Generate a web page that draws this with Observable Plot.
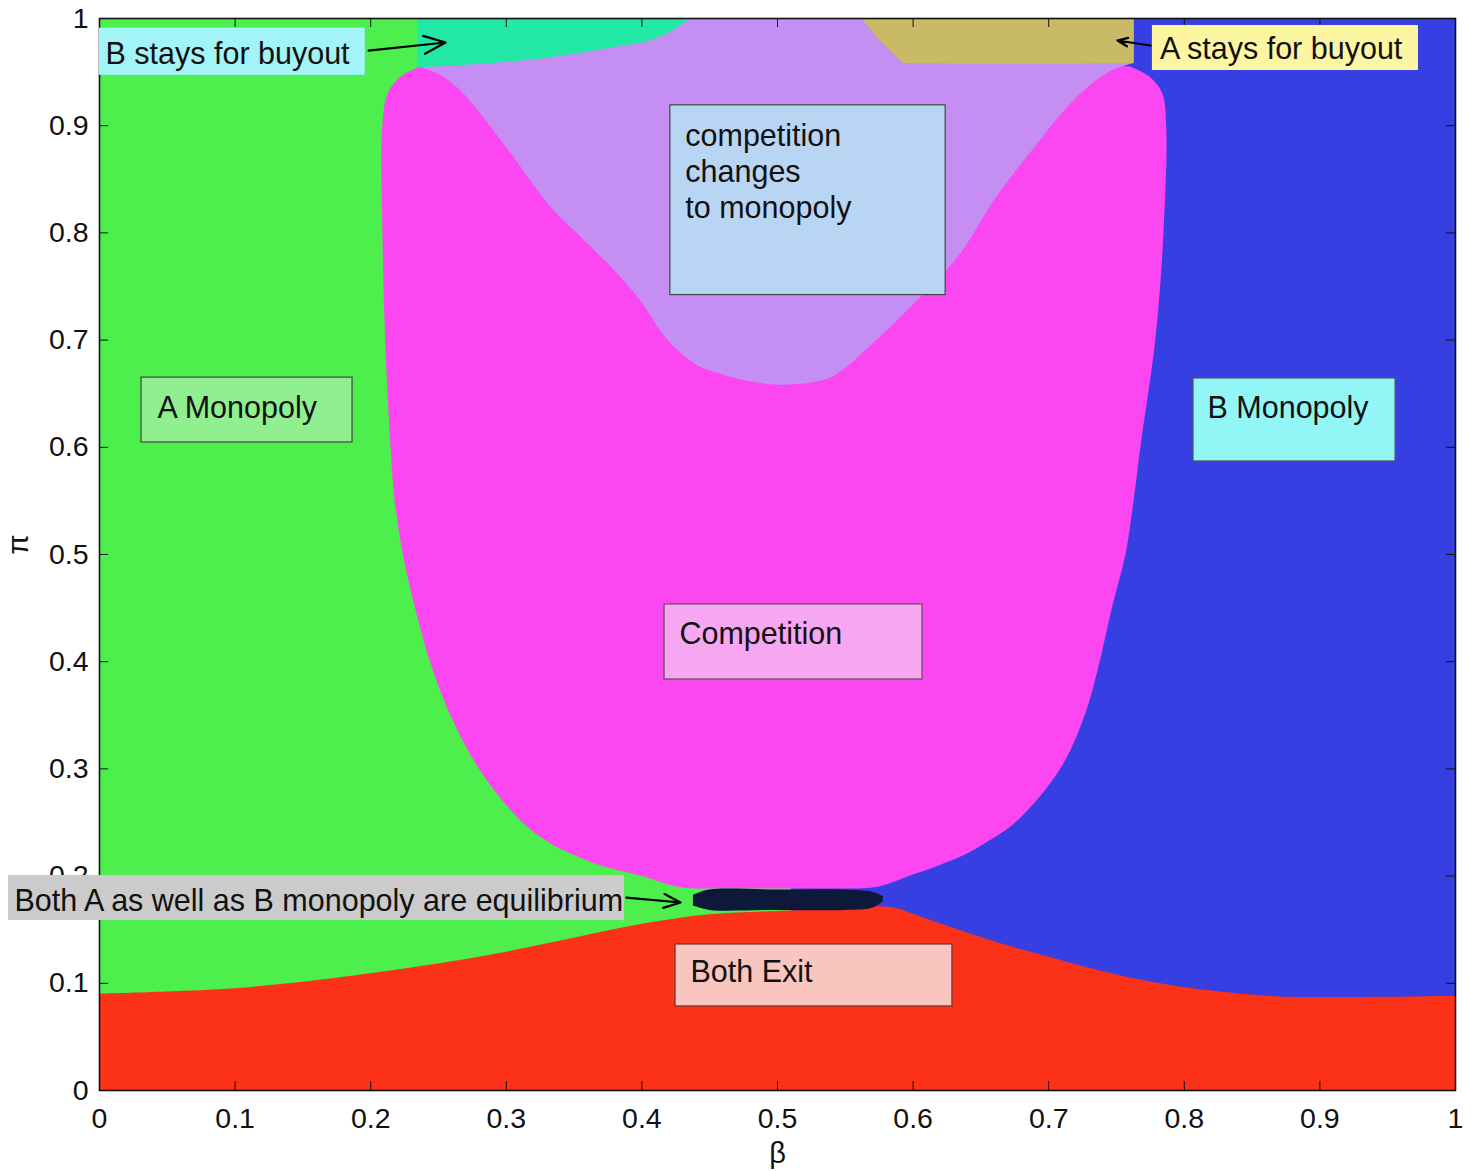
<!DOCTYPE html>
<html><head><meta charset="utf-8">
<script src="https://cdn.jsdelivr.net/npm/d3@7"></script>
<script src="https://cdn.jsdelivr.net/npm/@observablehq/plot@0.6"></script>
<style>html,body{margin:0;padding:0;background:#fff;} svg{display:block}</style>
</head><body><div id="chart"></div>
<script>
// ---- tick values / labels ----
const betaTicks = [0, 0.1, 0.2, 0.3, 0.4, 0.5, 0.6, 0.7, 0.8, 0.9, 1];
const betaTickLabels = ["0", "0.1", "0.2", "0.3", "0.4", "0.5", "0.6", "0.7", "0.8", "0.9", "1"];
const piTicks = [0, 0.1, 0.2, 0.3, 0.4, 0.5, 0.6, 0.7, 0.8, 0.9, 1];
const piTickLabels = ["0", "0.1", "0.2", "0.3", "0.4", "0.5", "0.6", "0.7", "0.8", "0.9", "1"];

// ---- background monopoly regions (split under the equilibrium band) ----
const bgRegions = ["A Monopoly", "B Monopoly"];
const bgFrom = [0, 0.51];
const bgTo = [0.51, 1];

// ---- Both Exit: upper boundary π(β) ----
const exitBeta = [0, 0.05, 0.1, 0.15, 0.2, 0.25, 0.3, 0.35, 0.4, 0.45, 0.5, 0.55, 0.583, 0.61, 0.642, 0.67, 0.701, 0.73, 0.76, 0.79, 0.819, 0.85, 0.878, 0.95, 1];
const exitTop  = [0.090, 0.092, 0.095, 0.101, 0.109, 0.118, 0.129, 0.142, 0.155, 0.164, 0.167, 0.169, 0.171, 0.160, 0.146, 0.135, 0.124, 0.114, 0.105, 0.098, 0.093, 0.089, 0.087, 0.087, 0.088];

// ---- Competition: left / right boundary β(π) ----
const compPi    = [0.188, 0.19, 0.2, 0.21, 0.22, 0.23, 0.25, 0.3, 0.35, 0.4, 0.45, 0.5, 0.55, 0.6, 0.7, 0.8, 0.9, 0.93, 0.945, 0.955];
const compLeft  = [0.436, 0.425, 0.399, 0.369, 0.349, 0.333, 0.312, 0.280, 0.259, 0.244, 0.233, 0.224, 0.218, 0.215, 0.211, 0.209, 0.209, 0.213, 0.222, 0.237];
const compRight = [0.561, 0.576, 0.598, 0.620, 0.639, 0.653, 0.676, 0.709, 0.727, 0.738, 0.747, 0.757, 0.763, 0.768, 0.779, 0.785, 0.787, 0.784, 0.775, 0.760];

// ---- competition changes to monopoly: lower boundary π(β) ----
const changeBeta   = [0.235, 0.25, 0.266, 0.30, 0.333, 0.36, 0.382, 0.40, 0.419, 0.44, 0.456, 0.48, 0.51, 0.54, 0.565, 0.59, 0.61, 0.635, 0.66, 0.69, 0.72, 0.745, 0.763];
const changeBottom = [0.955, 0.948, 0.933, 0.88, 0.824, 0.79, 0.762, 0.735, 0.70, 0.677, 0.669, 0.661, 0.658, 0.665, 0.69, 0.72, 0.745, 0.78, 0.83, 0.88, 0.925, 0.95, 0.958];

// ---- B stays for buyout: lower boundary ----
const bStayBeta   = [0.235, 0.28, 0.33, 0.38, 0.406, 0.425, 0.436];
const bStayBottom = [0.954, 0.957, 0.963, 0.973, 0.979, 0.99, 1.0];

// ---- A stays for buyout: lower boundary ----
const aStayBeta   = [0.562, 0.575, 0.593, 0.65, 0.7, 0.763];
const aStayBottom = [1.0, 0.98, 0.958, 0.957, 0.957, 0.958];

// ---- Both A and B monopoly equilibrium band ----
const bothBeta = [0.438, 0.45, 0.5, 0.55, 0.57, 0.578];
const bothLow  = [0.172, 0.168, 0.168, 0.168, 0.170, 0.176];
const bothHigh = [0.182, 0.187, 0.187, 0.187, 0.185, 0.181];

// ---- annotations (text boxes) ----
const noteText = ["B stays for buyout", "A stays for buyout", "competition\nchanges\nto monopoly", "A Monopoly", "B Monopoly", "Competition", "Both A as well as B monopoly are equilibrium", "Both Exit"];
const noteX1 = [0, 0.7765, 0.421, 0.031, 0.8068, 0.4167, -0.0671, 0.4248];
const noteX2 = [0.196, 0.9727, 0.624, 0.1866, 0.9558, 0.6069, 0.3872, 0.629];
const noteY1 = [0.947, 0.9515, 0.742, 0.6045, 0.5868, 0.3834, 0.1586, 0.0784];
const noteY2 = [0.991, 0.9935, 0.919, 0.665, 0.6642, 0.4534, 0.2006, 0.1362];
const noteTx = [0.0044, 0.782, 0.432, 0.0428, 0.8171, 0.4277, -0.0627, 0.4358];
const noteTy = [0.968, 0.973, 0.858, 0.638, 0.638, 0.4272, 0.1782, 0.1119];

// ---- arrows ----
const arrowFromBeta = [0.1984, 0.775, 0.3886];
const arrowFromPi   = [0.970, 0.9748, 0.180];
const arrowToBeta   = [0.2552, 0.7507, 0.4285];
const arrowToPi     = [0.9776, 0.9795, 0.1754];

// ---- styles ----
const regionColor = {
  "A Monopoly": "#4cef4c", "B Monopoly": "#3640e2", "Both Exit": "#fc3218",
  "Competition": "#fb46f2", "Change": "#c48ef2", "B stays": "#22e8a6",
  "A stays": "#c8ba66", "Both": "#0e1838"
};
const noteFill = ["#a2f4f6", "#fcf6a2", "#b8d6f4", "#90f090", "#92f6f6", "#f7a6f1", "#cbcbcb", "#f9c6bf"];
const noteStroke = ["none", "none", "#444", "#444", "#555", "#555", "none", "#633"];

const bg = bgRegions.map((r, i) => ({region: r, x1: bgFrom[i], x2: bgTo[i]}));
const exitData = exitBeta.map((b, i) => ({beta: b, top: exitTop[i]}));
const compData = compPi.map((p, i) => ({pi: p, left: compLeft[i], right: compRight[i]}));
const changeData = changeBeta.map((b, i) => ({beta: b, bottom: changeBottom[i]}));
const bStayData = bStayBeta.map((b, i) => ({beta: b, bottom: bStayBottom[i]}));
const aStayData = aStayBeta.map((b, i) => ({beta: b, bottom: aStayBottom[i]}));
const bothData = bothBeta.map((b, i) => ({beta: b, low: bothLow[i], high: bothHigh[i]}));
const notes = noteText.map((t, i) => ({text: t, x1: noteX1[i], x2: noteX2[i], y1: noteY1[i], y2: noteY2[i], tx: noteTx[i], ty: noteTy[i], fill: noteFill[i], stroke: noteStroke[i]}));
const arrows = arrowFromBeta.map((b, i) => ({x1: b, y1: arrowFromPi[i], x2: arrowToBeta[i], y2: arrowToPi[i]}));

const W = 1478, H = 1171, mL = 99, mR = 23, mT = 18, mB = 81;
const plotW = W - mL - mR, plotH = H - mT - mB;
const piMin = piTicks[0], piMax = piTicks[piTicks.length - 1];
const font = "'Liberation Sans', Arial, Helvetica, sans-serif";

const chart = Plot.plot({
  width: W, height: H,
  marginLeft: mL, marginRight: mR, marginTop: mT, marginBottom: mB,
  x: {domain: [betaTicks[0], betaTicks[betaTicks.length - 1]]},
  y: {domain: [piMin, piMax]},
  style: {fontFamily: font, background: "white", overflow: "visible", color: "#111"},
  marks: [
    Plot.rect(bg, {x1: "x1", x2: "x2", y1: () => piMin, y2: () => piMax, fill: d => regionColor[d.region]}),
    Plot.areaY(exitData, {x: "beta", y1: () => piMin, y2: "top", fill: regionColor["Both Exit"], curve: "catmull-rom"}),
    Plot.areaX(compData, {y: "pi", x1: "left", x2: "right", fill: regionColor["Competition"], curve: "catmull-rom"}),
    Plot.areaY(changeData, {x: "beta", y1: "bottom", y2: () => piMax, fill: regionColor["Change"], curve: "catmull-rom"}),
    Plot.areaY(bStayData, {x: "beta", y1: "bottom", y2: () => piMax, fill: regionColor["B stays"], curve: "catmull-rom"}),
    Plot.areaY(aStayData, {x: "beta", y1: "bottom", y2: () => piMax, fill: regionColor["A stays"], curve: "linear"}),
    Plot.areaY(bothData, {x: "beta", y1: "low", y2: "high", fill: regionColor["Both"], curve: "catmull-rom"}),
    Plot.frame({stroke: "#111", strokeWidth: 1.6}),
    Plot.tickX(betaTicks, {x: d => d, insetTop: plotH - 9, stroke: "#111"}),
    Plot.tickX(betaTicks, {x: d => d, insetBottom: plotH - 9, stroke: "#111"}),
    Plot.tickY(piTicks, {y: d => d, insetRight: plotW - 9, stroke: "#111"}),
    Plot.tickY(piTicks, {y: d => d, insetLeft: plotW - 9, stroke: "#111"}),
    Plot.axisX(betaTicks, {tickFormat: d => betaTickLabels[betaTicks.indexOf(d)], tickSize: 0, tickPadding: 17, fontSize: 28.5, label: null}),
    Plot.axisY(piTicks, {tickFormat: d => piTickLabels[piTicks.indexOf(d)], tickSize: 0, tickPadding: 11, fontSize: 28.5, label: null}),
    Plot.text(["β"], {frameAnchor: "bottom", dy: 72, fontSize: 29, fill: "#111"}),
    Plot.text(["π"], {frameAnchor: "left", dx: -81, rotate: -90, fontSize: 29, fill: "#111"}),
    Plot.rect(notes, {x1: "x1", x2: "x2", y1: "y1", y2: "y2", fill: d => d.fill, stroke: d => d.stroke, strokeWidth: 1.2}),
    Plot.text(notes, {x: "tx", y: "ty", text: "text", textAnchor: "start", lineAnchor: "middle", fontSize: 30.5, lineHeight: 1.18, fill: "#111"}),
    Plot.arrow(arrows, {x1: "x1", y1: "y1", x2: "x2", y2: "y2", stroke: "#000", strokeWidth: 2.2, headLength: 16, headAngle: 45})
  ]
});
document.getElementById("chart").appendChild(chart);
</script>
</body></html>
